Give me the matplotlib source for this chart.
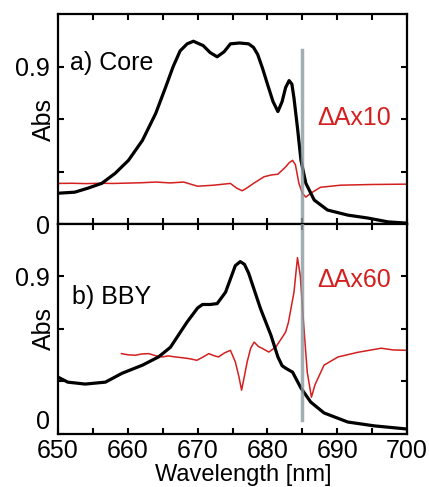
import numpy as np
import matplotlib
matplotlib.use("Agg")
from matplotlib import pyplot as plt

plt.rcParams['font.family'] = ['Liberation Sans', 'DejaVu Sans']

# a) Core: absorption and difference spectrum (x10)
core_wl = [650, 652.4, 654.3, 656.3, 658.2, 660.1, 662.1, 664.0, 665.4, 666.5,
           667.5, 668.5, 669.4, 670.8, 671.8, 672.8, 673.8, 674.7, 676.0, 677.3,
           678.0, 678.6, 679.3, 680.0, 680.8, 681.5, 682.1, 682.6, 683.1, 683.5,
           683.8, 684.3, 684.8, 685.5, 686.7, 688.6, 691.5, 694.4, 697.3, 700]
core_abs = [0.176, 0.182, 0.205, 0.233, 0.29, 0.364, 0.478, 0.632, 0.78, 0.90,
            0.99, 1.03, 1.045, 1.02, 0.98, 0.956, 0.985, 1.03, 1.035, 1.03,
            1.01, 0.97, 0.89, 0.80, 0.70, 0.643, 0.70, 0.78, 0.82, 0.80,
            0.72, 0.55, 0.364, 0.233, 0.137, 0.08, 0.051, 0.034, 0.012, 0.005]

core_dwl = [650, 652, 654, 656, 658, 660, 662, 664, 666.1, 668, 670, 672.3,
            674.7, 675.6, 676.4, 677.2, 678, 679.5, 680.5, 681.5, 682.6, 683.1,
            683.6, 684.0, 684.5, 685.0, 685.5, 686.2, 687.6, 690.5, 695, 700]
core_dA = [0.232, 0.233, 0.231, 0.233, 0.232, 0.234, 0.236, 0.24, 0.235, 0.24,
           0.216, 0.222, 0.232, 0.205, 0.19, 0.21, 0.232, 0.27, 0.28, 0.285,
           0.326, 0.35, 0.364, 0.34, 0.233, 0.175, 0.154, 0.176, 0.21, 0.222,
           0.226, 0.228]

# b) BBY: absorption and difference spectrum (x60)
bby_wl = [650, 651.4, 653.9, 656.8, 659.2, 662.1, 664.4, 666.1, 668.5, 670.0,
          670.7, 671.8, 672.8, 674.0, 675.4, 676.1, 676.7, 677.3, 679.0, 680.5,
          681.5, 682.1, 682.6, 683.6, 684.8, 686.2, 688.1, 691.5, 695.3, 700]
bby_abs = [0.325, 0.296, 0.285, 0.296, 0.347, 0.393, 0.44, 0.495, 0.64, 0.72,
           0.74, 0.74, 0.745, 0.81, 0.962, 0.985, 0.97, 0.92, 0.717, 0.564,
           0.44, 0.39, 0.376, 0.353, 0.262, 0.182, 0.12, 0.068, 0.046, 0.028]

bby_dwl = [659.1, 660.1, 661.1, 662.0, 663.0, 664.0, 664.9, 665.8, 666.8,
           667.7, 668.7, 669.9, 670.8, 671.6, 672.3, 673.0, 673.8, 674.7,
           675.4, 675.9, 676.3, 676.7, 677.1, 677.6, 678.1, 678.7, 679.3,
           680.2, 681.2, 682.0, 682.6, 683.0, 683.8, 684.3, 684.7, 685.2,
           685.7, 686.3, 686.8, 688.1, 690.1, 693.0, 696.3, 698.0, 700]
bby_dA = [0.459, 0.452, 0.45, 0.457, 0.459, 0.447, 0.44, 0.446, 0.44,
          0.436, 0.431, 0.421, 0.44, 0.459, 0.448, 0.44, 0.462, 0.478,
          0.412, 0.33, 0.25, 0.33, 0.412, 0.49, 0.525, 0.5, 0.488,
          0.468, 0.497, 0.545, 0.582, 0.637, 0.81, 1.008, 0.905, 0.62,
          0.353, 0.21, 0.28, 0.393, 0.44, 0.467, 0.49, 0.48, 0.478]

red = '#d41f1f'
fig = plt.figure(figsize=(4.29, 4.87), dpi=100)
ax1 = fig.add_axes([0.135, 0.540, 0.814, 0.431])
ax2 = fig.add_axes([0.135, 0.109, 0.814, 0.431])

for ax in (ax1, ax2):
    ax.set_xlim(650, 700)
    ax.set_ylim(0, 1.2)
    ax.set_xticks(np.arange(650, 701, 5))
    ax.set_yticks([0, 0.3, 0.6, 0.9])
    ax.set_yticklabels(['0', '', '', '0.9'])
    ax.tick_params(direction='in', length=4, width=1.5, top=True, right=True,
                   labelsize=18, pad=6)
    for s in ax.spines.values():
        s.set_linewidth(1.6)
    ax.set_ylabel('Abs', fontsize=18)
    ax.yaxis.set_label_coords(-0.005, 0.5)

ax1.tick_params(labelbottom=False)
ax2.tick_params(axis='x', pad=4)
ax2.set_xticklabels(['650', '', '660', '', '670', '', '680', '', '690', '', '700'])
# lift the lower "0" so it clears the 650 label
ax2.get_yticklabels()[0].set_va('bottom')

ax1.plot(core_dwl, core_dA, color=red, lw=1.1)
ax1.plot(core_wl, core_abs, color='black', lw=2.3)
ax2.plot(bby_dwl, bby_dA, color=red, lw=1.1)
ax2.plot(bby_wl, bby_abs, color='black', lw=2.3)

# marker line at 685 nm across both panels
ax1.axvline(685, ymin=0, ymax=0.83, color='#8a9aa0', lw=2.5, alpha=0.8, zorder=5)
ax2.axvline(685, ymin=0.067, ymax=1, color='#8a9aa0', lw=2.5, alpha=0.8, zorder=5)

ax1.text(0.034, 0.767, 'a) Core', transform=ax1.transAxes, fontsize=18, va='center')
ax2.text(0.04, 0.652, 'b) BBY', transform=ax2.transAxes, fontsize=18, va='center')
ax1.text(0.742, 0.505, 'ΔAx10', transform=ax1.transAxes, fontsize=18, va='center', color=red)
ax2.text(0.742, 0.733, 'ΔAx60', transform=ax2.transAxes, fontsize=18, va='center', color=red)

ax2.set_xlabel('Wavelength [nm]', fontsize=17)
ax2.xaxis.set_label_coords(0.53, -0.142)
ax2.xaxis.label.set_va('top')

fig.savefig('out.png', dpi=100)
